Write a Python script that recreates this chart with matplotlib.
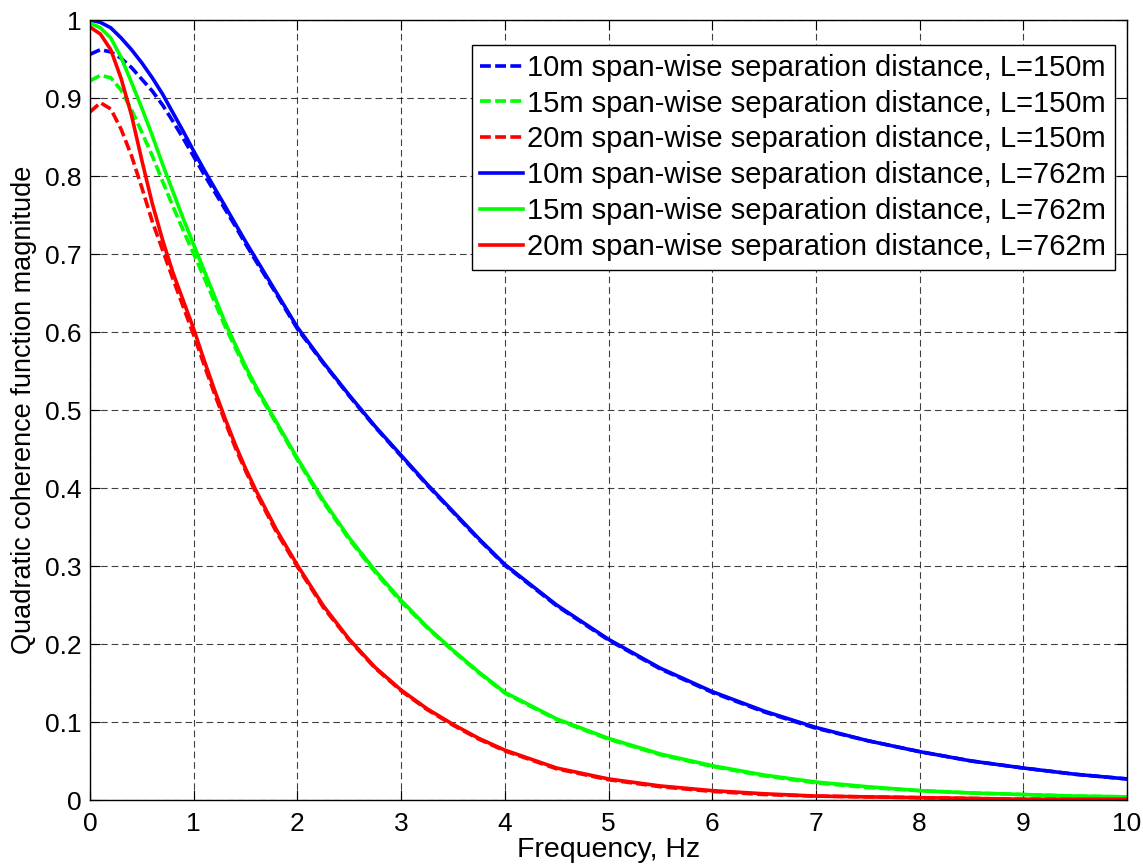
import matplotlib
matplotlib.use("Agg")
import matplotlib.pyplot as plt

plt.rcParams['font.family'] = ['Liberation Sans', 'DejaVu Sans']

# frequency grid (Hz) shared by all curves
freq = [0, 0.1, 0.2, 0.3, 0.4, 0.5, 0.6, 0.7, 0.8, 0.9, 1.0,
        1.1, 1.2, 1.3, 1.4, 1.5, 1.6, 1.8, 2.0,
        2.25, 2.5, 2.75, 3.0, 3.25, 3.5, 3.75, 4.0,
        4.5, 5.0, 5.5, 6.0, 6.5, 7.0, 7.5, 8.0, 8.5, 9.0, 9.5, 10.0]

# L = 150m (dashed)
coh_10m_150 = [0.956, 0.962, 0.959, 0.951, 0.939, 0.924, 0.909, 0.891, 0.870, 0.848, 0.825,
               0.802, 0.780, 0.758, 0.736, 0.713, 0.691, 0.648, 0.604,
               0.560, 0.518, 0.478, 0.441, 0.404, 0.369, 0.334, 0.301,
               0.249, 0.205, 0.168, 0.138, 0.113, 0.092, 0.076, 0.062, 0.050, 0.041, 0.033, 0.027]
coh_15m_150 = [0.922, 0.929, 0.926, 0.910, 0.885, 0.856, 0.826, 0.793, 0.761, 0.730, 0.700,
               0.670, 0.639, 0.608, 0.580, 0.553, 0.527, 0.482, 0.436,
               0.382, 0.334, 0.292, 0.254, 0.221, 0.191, 0.163, 0.137,
               0.103, 0.078, 0.058, 0.043, 0.031, 0.022, 0.016, 0.012, 0.009, 0.007, 0.005, 0.004]
coh_20m_150 = [0.882, 0.894, 0.886, 0.860, 0.826, 0.785, 0.742, 0.705, 0.668, 0.632, 0.596,
               0.558, 0.521, 0.486, 0.452, 0.422, 0.394, 0.343, 0.299,
               0.247, 0.205, 0.169, 0.140, 0.116, 0.096, 0.078, 0.063,
               0.040, 0.026, 0.017, 0.011, 0.007, 0.005, 0.004, 0.003, 0.002, 0.001, 0.001, 0.001]

# L = 762m (solid)
coh_10m_762 = [1.000, 0.997, 0.990, 0.977, 0.962, 0.945, 0.926, 0.905, 0.881, 0.857, 0.832,
               0.808, 0.785, 0.762, 0.739, 0.716, 0.694, 0.650, 0.606,
               0.561, 0.519, 0.479, 0.442, 0.405, 0.370, 0.335, 0.302,
               0.250, 0.206, 0.169, 0.139, 0.114, 0.093, 0.076, 0.062, 0.050, 0.041, 0.033, 0.027]
coh_15m_762 = [0.996, 0.990, 0.977, 0.952, 0.920, 0.887, 0.852, 0.815, 0.780, 0.745, 0.712,
               0.679, 0.646, 0.613, 0.584, 0.556, 0.530, 0.484, 0.438,
               0.384, 0.336, 0.294, 0.256, 0.222, 0.192, 0.164, 0.138,
               0.104, 0.079, 0.059, 0.044, 0.032, 0.023, 0.017, 0.012, 0.009, 0.007, 0.005, 0.004]
coh_20m_762 = [0.991, 0.982, 0.962, 0.925, 0.878, 0.820, 0.765, 0.718, 0.676, 0.640, 0.604,
               0.564, 0.526, 0.490, 0.456, 0.425, 0.397, 0.346, 0.301,
               0.249, 0.206, 0.170, 0.141, 0.117, 0.097, 0.079, 0.064,
               0.041, 0.027, 0.018, 0.012, 0.008, 0.005, 0.004, 0.003, 0.002, 0.001, 0.001, 0.001]

labels = ['10m span-wise separation distance, L=150m',
          '15m span-wise separation distance, L=150m',
          '20m span-wise separation distance, L=150m',
          '10m span-wise separation distance, L=762m',
          '15m span-wise separation distance, L=762m',
          '20m span-wise separation distance, L=762m']

x_ticks = list(range(0, 11))
y_ticks = [0, 0.1, 0.2, 0.3, 0.4, 0.5, 0.6, 0.7, 0.8, 0.9, 1.0]
y_ticklabels = ['0', '0.1', '0.2', '0.3', '0.4', '0.5', '0.6', '0.7', '0.8', '0.9', '1']

fig = plt.figure(figsize=(11.43, 8.64), dpi=100)
ax = fig.add_axes([90 / 1143, 1 - 800 / 864, 1037 / 1143, 780 / 864])

lw = 2.6
dash = (0, (3.0, 1.2))
ax.plot(freq, coh_10m_150, color=(0, 0, 1), lw=lw, linestyle=dash, label=labels[0])
ax.plot(freq, coh_15m_150, color=(0, 1, 0), lw=lw, linestyle=dash, label=labels[1])
ax.plot(freq, coh_20m_150, color=(1, 0, 0), lw=lw, linestyle=dash, label=labels[2])
ax.plot(freq, coh_10m_762, color=(0, 0, 1), lw=lw, label=labels[3])
ax.plot(freq, coh_15m_762, color=(0, 1, 0), lw=lw, label=labels[4])
ax.plot(freq, coh_20m_762, color=(1, 0, 0), lw=lw, label=labels[5])

ax.set_xlim(0, 10)
ax.set_ylim(0, 1)
ax.set_xticks(x_ticks)
ax.set_yticks(y_ticks)
ax.set_yticklabels(y_ticklabels)
ax.tick_params(direction='in', length=7, width=0.8, labelsize=19,
               top=True, right=True)
ax.tick_params(axis='y', pad=6)
ax.tick_params(axis='x', pad=8.5)
ax.grid(True, color='black', linestyle=(0, (6, 3.5)), linewidth=0.8, alpha=0.75)
for s in ax.spines.values():
    s.set_linewidth(1.0)

ax.set_xlabel('Frequency, Hz', fontsize=20.5)
ax.set_ylabel('Quadratic coherence function magnitude', fontsize=19.5)
ax.xaxis.set_label_coords(0.5, -0.047)
ax.yaxis.set_label_coords(-0.051, 0.5)

leg = ax.legend(loc='upper right', bbox_to_anchor=(0.988, 0.968), borderaxespad=0,
                fontsize=21, handlelength=1.45, handletextpad=0.15, labelspacing=0.27,
                borderpad=0.3, fancybox=False, framealpha=1, edgecolor='black')
leg.get_frame().set_linewidth(1.0)

fig.savefig('out.png', dpi=100)
